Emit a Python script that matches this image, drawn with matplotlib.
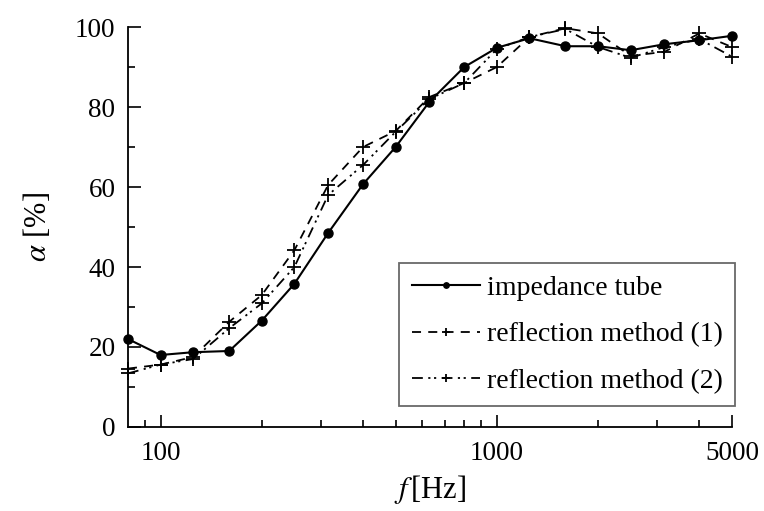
import matplotlib
matplotlib.use('Agg')
import matplotlib.pyplot as plt
from matplotlib.ticker import FixedLocator, NullFormatter, FixedFormatter

# ---- data ------------------------------------------------------------------
freq = [80, 100, 125, 160, 200, 250, 315, 400, 500, 630, 800, 1000,
        1250, 1600, 2000, 2500, 3150, 4000, 5000]
tube = [22.0, 18.0, 18.7, 19.0, 26.6, 35.8, 48.5, 60.7, 70.0, 81.3, 90.0, 94.8,
        97.2, 95.2, 95.2, 94.2, 95.7, 96.7, 97.8]
refl1 = [14.6, 15.6, 17.5, 26.3, 33.0, 44.2, 60.5, 70.0, 74.0, 82.5, 86.0, 90.0,
         97.5, 99.7, 98.4, 92.8, 93.8, 98.4, 95.0]
refl2 = [13.4, 15.6, 17.0, 24.7, 30.9, 40.0, 58.0, 65.5, 73.8, 82.0, 86.0, 94.5,
         97.5, 99.5, 95.0, 92.3, 95.0, 97.0, 92.6]

labels = ['impedance tube', 'reflection method (1)', 'reflection method (2)']
x_major = [100, 1000, 5000]
x_minor = [90, 200, 300, 400, 500, 600, 700, 800, 900, 2000, 3000, 4000]

plt.rcParams['font.family'] = ['Liberation Serif', 'DejaVu Serif']
plt.rcParams['mathtext.fontset'] = 'stix'

fig = plt.figure(figsize=(7.64, 5.11), dpi=100)
ax = fig.add_axes([0.1675, 0.1644, 0.7905, 0.7827])

ax.plot(freq, tube, '-', color='black', lw=1.5, marker='o', ms=6.5,
        clip_on=False, zorder=4, label=labels[0])
ax.plot(freq, refl1, color='black', lw=1.3, ls=(0, (5, 4)), marker='+', ms=10,
        mew=1.3, clip_on=False, zorder=3, label=labels[1])
ax.plot(freq, refl2, color='black', lw=1.3, ls=(0, (6, 3, 1.2, 2, 1.2, 3)),
        marker='+', ms=10, mew=1.3, clip_on=False, zorder=3, label=labels[2])

ax.set_xscale('log')
ax.set_xlim(80, 5000)
ax.set_ylim(0, 100)
ax.xaxis.set_major_locator(FixedLocator(x_major))
ax.xaxis.set_major_formatter(FixedFormatter([str(v) for v in x_major]))
ax.xaxis.set_minor_locator(FixedLocator(x_minor))
ax.xaxis.set_minor_formatter(NullFormatter())
ax.set_yticks([0, 20, 40, 60, 80, 100])
ax.set_yticks([10, 30, 50, 70, 90], minor=True)

for s in ['top', 'right']:
    ax.spines[s].set_visible(False)
for s in ['left', 'bottom']:
    ax.spines[s].set_linewidth(1.3)
ax.tick_params(which='both', direction='in', labelsize=19.5, width=1.2)
ax.tick_params(which='major', length=9)
ax.tick_params(which='minor', length=5)
ax.tick_params(axis='x', which='major', pad=10)
ax.tick_params(axis='y', which='major', pad=9)

ax.set_xlabel(r'$f\,$[Hz]', fontsize=22, labelpad=5)
ax.set_ylabel(r'$\alpha$ [%]', fontsize=22, labelpad=16)

leg = ax.legend(loc='lower right', bbox_to_anchor=(1.005, 0.052), fontsize=20,
                frameon=True, fancybox=False, handlelength=2.45,
                handletextpad=0.25, borderpad=0.45, borderaxespad=0.0,
                labelspacing=0.75, markerscale=0.6)
leg.get_frame().set_edgecolor('#444444')
leg.get_frame().set_linewidth(1.3)

fig.savefig('out.png', dpi=100)
